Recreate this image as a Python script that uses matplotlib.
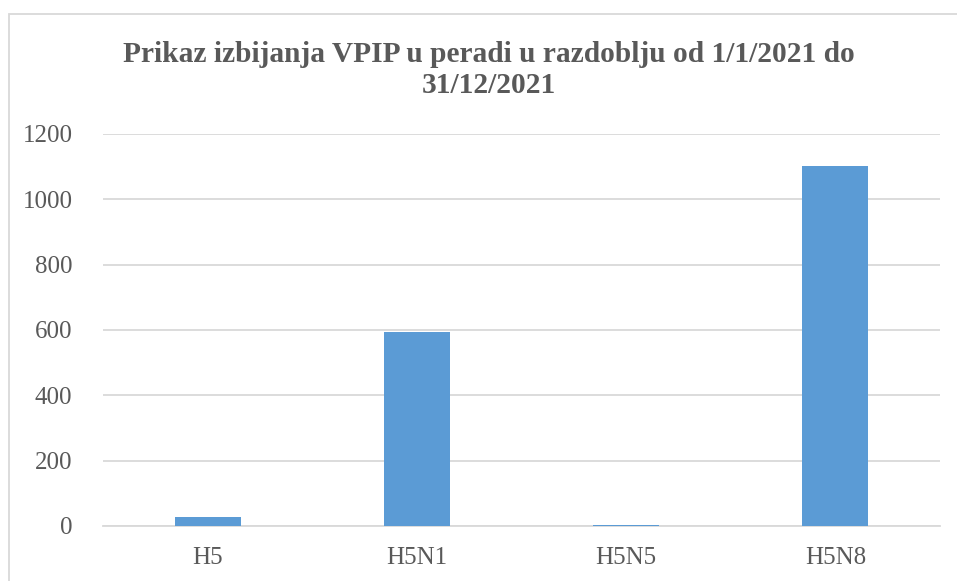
import matplotlib.pyplot as plt
from matplotlib.patches import Rectangle

categories = ['H5', 'H5N1', 'H5N5', 'H5N8']
outbreaks = [26, 595, 2, 1102]
yticks = [0, 200, 400, 600, 800, 1000, 1200]
title = 'Prikaz izbijanja VPIP u peradi u razdoblju od 1/1/2021 do\n31/12/2021'

plt.rcParams['font.family'] = ['Liberation Serif', 'DejaVu Serif']
txt = '#595959'

fig = plt.figure(figsize=(9.57, 5.81), dpi=100)
ax = fig.add_axes([0.1076, 0.0947, 0.8746, 0.6747])

ax.bar(range(len(categories)), outbreaks, width=0.315, color='#5B9BD5', zorder=3)
ax.set_xlim(-0.5, len(categories) - 0.5)
ax.set_ylim(0, 1200)
ax.set_yticks(yticks)
ax.set_xticks(range(len(categories)))
ax.set_xticklabels(categories)
ax.yaxis.grid(True, color='#D9D9D9', lw=1.3, zorder=0)
for s in ['top', 'right', 'left']:
    ax.spines[s].set_visible(False)
ax.spines['bottom'].set_color('#D9D9D9')
ax.spines['bottom'].set_linewidth(1.3)
ax.tick_params(length=0, labelsize=18, labelcolor=txt)
ax.tick_params(axis='y', pad=22)
ax.tick_params(axis='x', pad=15)

fig.text(0.511, 0.879, title, ha='center', va='center', fontsize=21.2,
         fontweight='bold', color=txt, linespacing=1.2)

fig.patches.append(Rectangle((9 / 957, -0.1), 1.2, 1 - 14 / 581 + 0.1,
                             transform=fig.transFigure, fill=False,
                             edgecolor='#D9D9D9', lw=1.3))

fig.savefig('out.png', dpi=100)
